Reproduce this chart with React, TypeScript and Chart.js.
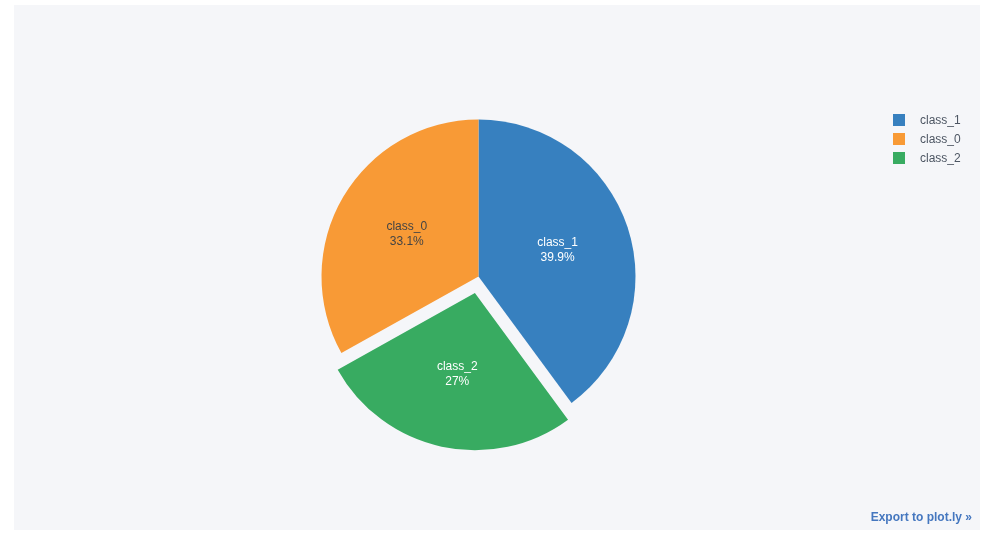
import { useEffect, useRef } from "react"
import { Chart, registerables } from "chart.js"

Chart.register(...registerables)

// slices in clockwise order starting at 12 o'clock
const labels = ["class_1", "class_2", "class_0"]
const values = [39.9, 27.0, 33.1]

const colors = ["#3780bf", "#38ab61", "#f89a36"]
const textColors = ["#ffffff", "#ffffff", "#444444"]
const pulls = [0, 17, 0] // px the slice is pulled out

const FONT = '"Liberation Sans", Arial, sans-serif'

const total = values.reduce((a, b) => a + b, 0)
// plotly lists the legend by value, largest first
const legendOrder = values.map((_, i) => i).sort((a, b) => values[b] - values[a])

const sliceLabels = {
  id: "sliceLabels",
  afterDatasetsDraw(chart: any) {
    const ctx = chart.ctx
    const meta = chart.getDatasetMeta(0)
    ctx.save()
    ctx.font = `12px ${FONT}`
    ctx.textAlign = "center"
    ctx.textBaseline = "middle"
    meta.data.forEach((arc: any, i: number) => {
      const { x, y, startAngle, endAngle, outerRadius } = arc.getProps(
        ["x", "y", "startAngle", "endAngle", "outerRadius"],
        true
      )
      const mid = (startAngle + endAngle) / 2
      // chart.js translates an arc by offset / 4
      const shift = (arc.options.offset || 0) / 4
      const r = outerRadius * 0.53 + shift
      const cx = x + Math.cos(mid) * r
      const cy = y + Math.sin(mid) * r
      const pct = Math.round((values[i] / total) * 1000) / 10
      ctx.fillStyle = textColors[i]
      ctx.fillText(labels[i], cx, cy - 7.5)
      ctx.fillText(pct + "%", cx, cy + 7.5)
    })
    ctx.restore()
  },
}

export default function App() {
  const chartRef = useRef<HTMLCanvasElement>(null)
  const chartInstance = useRef<Chart | null>(null)

  useEffect(() => {
    if (!chartRef.current) return

    if (chartInstance.current) {
      chartInstance.current.destroy()
    }

    const ctx = chartRef.current.getContext("2d")
    if (!ctx) return

    chartInstance.current = new Chart(ctx, {
      type: "pie",
      data: {
        labels,
        datasets: [
          {
            data: values,
            backgroundColor: colors,
            borderWidth: 0,
            offset: pulls.map((p) => p * 4),
          } as any,
        ],
      },
      options: {
        animation: false,
        responsive: true,
        maintainAspectRatio: false,
        events: [],
        radius: 157,
        layout: {
          padding: { left: 0, right: 37, top: 18, bottom: 0 },
        },
        plugins: {
          legend: { display: false },
          tooltip: { enabled: false },
        },
      } as any,
      plugins: [sliceLabels],
    })

    return () => {
      if (chartInstance.current) {
        chartInstance.current.destroy()
        chartInstance.current = null
      }
    }
  }, [])

  return (
    <div
      style={{
        position: "fixed",
        left: 0,
        top: 0,
        width: 991,
        height: 537,
        background: "#ffffff",
        fontFamily: FONT,
      }}
    >
      <div
        style={{
          position: "absolute",
          left: 14,
          top: 5,
          width: 966,
          height: 525,
          background: "#f5f6f9",
        }}
      >
        <div style={{ position: "absolute", left: 0, top: 0, width: 966, height: 525 }}>
          <canvas ref={chartRef} />
        </div>

        <div style={{ position: "absolute", left: 879, top: 105 }}>
          {legendOrder.map((i) => (
            <div
              key={labels[i]}
              style={{ display: "flex", alignItems: "center", height: 19 }}
            >
              <span
                style={{
                  display: "inline-block",
                  width: 12,
                  height: 12,
                  background: colors[i],
                  marginRight: 15,
                }}
              />
              <span style={{ fontSize: 12, color: "#4d5663" }}>{labels[i]}</span>
            </div>
          ))}
        </div>

        <div
          style={{
            position: "absolute",
            right: 8,
            bottom: 6,
            fontSize: 12,
            fontWeight: "bold",
            color: "#4577bf",
          }}
        >
          Export to plot.ly »
        </div>
      </div>
    </div>
  )
}
